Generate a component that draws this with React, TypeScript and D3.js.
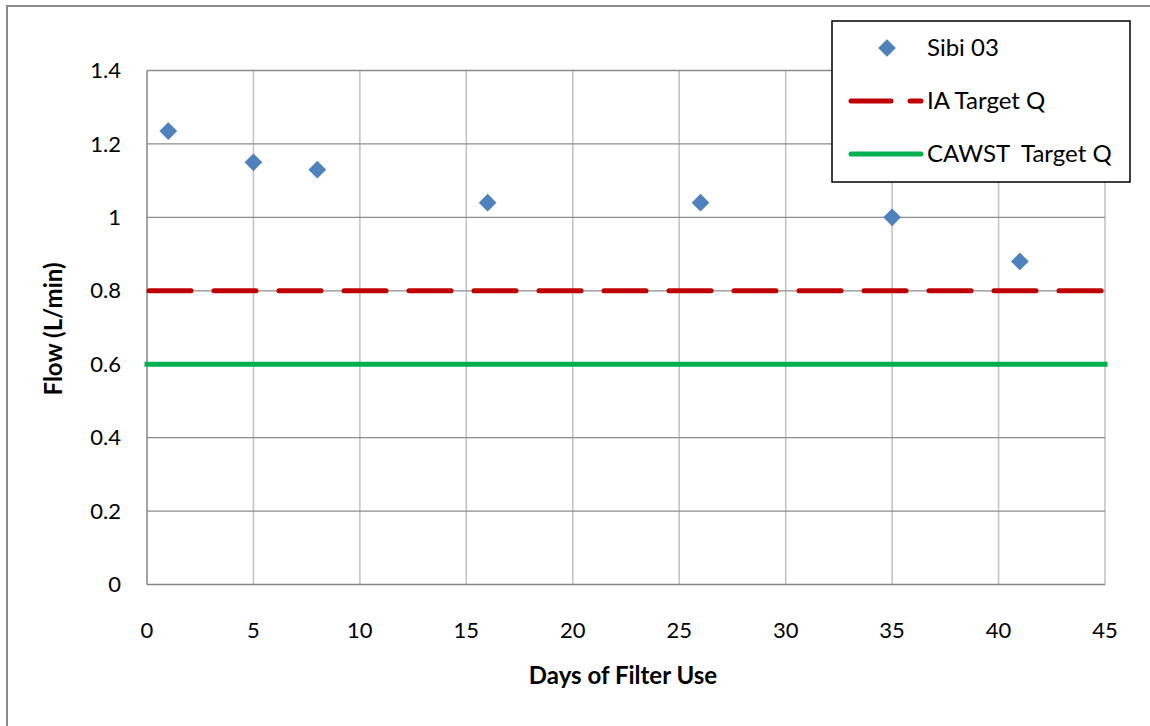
import React from "react";
import * as d3 from "d3";

const days = [1, 5, 8, 16, 26, 35, 41];
const flows = [1.235, 1.15, 1.13, 1.04, 1.04, 1.0, 0.88];
const xTicks = [0, 5, 10, 15, 20, 25, 30, 35, 40, 45];
const yTicks = [0, 0.2, 0.4, 0.6, 0.8, 1.0, 1.2, 1.4];
const iaTarget = 0.8;
const cawstTarget = 0.6;
const seriesNames = ["Sibi 03", "IA Target Q", "CAWST  Target Q"];

const W = 1150;
const H = 726;
const left = 147;
const right = 1105;
const top = 70.5;
const bottom = 584.5;
const font = "Lato, 'Open Sans', sans-serif";

export default function App() {
  const x = d3.scaleLinear().domain([0, 45]).range([left, right]);
  const y = d3.scaleLinear().domain([0, 1.4]).range([bottom, top]);
  const fmt = (v: number) => (v === 0 ? "0" : v === 1 ? "1" : d3.format(".1f")(v));
  const diamond = d3.symbol().type(d3.symbolDiamond2).size(200)();
  const line = d3.line<number>().x((d) => x(d)).y(() => 0);

  return (
    <svg width={W} height={H} style={{ position: "absolute", left: 0, top: 0 }}>
      <rect x={0} y={0} width={W} height={H} fill="#fff" />
      {/* outer frame */}
      <path d={`M7,${H} L7,6 L${W},6`} fill="none" stroke="#8a8a8a" strokeWidth={2} />
      {/* vertical gridlines */}
      {xTicks.slice(1).map((t) => (
        <line key={"vx" + t} x1={x(t)} x2={x(t)} y1={top} y2={bottom} stroke="#c0c0c0" strokeWidth={1.5} />
      ))}
      {/* horizontal gridlines */}
      {yTicks.slice(1).map((t) => (
        <line key={"hy" + t} x1={left} x2={right} y1={y(t)} y2={y(t)} stroke="#8c8c8c" strokeWidth={1.3} />
      ))}
      {/* axes */}
      <line x1={left} x2={left} y1={top} y2={bottom} stroke="#868686" strokeWidth={1.5} />
      <line x1={left} x2={right} y1={bottom} y2={bottom} stroke="#868686" strokeWidth={1.5} />
      {/* target lines */}
      <path
        d={line([0, 45]) || ""}
        transform={`translate(0,${y(cawstTarget)})`}
        fill="none"
        stroke="#00b050"
        strokeWidth={5}
        strokeLinecap="square"
      />
      <path
        d={line([0, 45]) || ""}
        transform={`translate(0,${y(iaTarget)})`}
        fill="none"
        stroke="#c00000"
        strokeWidth={5}
        strokeDasharray="42 23"
        strokeLinecap="round"
        strokeDashoffset={-2}
      />
      {/* points */}
      {days.map((d, i) => (
        <path key={"p" + i} d={diamond || ""} transform={`translate(${x(d)},${y(flows[i])})`} fill="#4f81bd" />
      ))}
      {/* tick labels */}
      {yTicks.map((t) => (
        <text key={"yl" + t} x={121} y={y(t)} dy="0.35em" textAnchor="end" fontFamily={font} fontSize={22} fill="#000">
          {fmt(t)}
        </text>
      ))}
      {xTicks.map((t) => (
        <text key={"xl" + t} x={x(t)} y={638} textAnchor="middle" fontFamily={font} fontSize={22} fill="#000">
          {t}
        </text>
      ))}
      {/* axis titles */}
      <text x={623} y={684} textAnchor="middle" fontFamily={font} fontSize={24} fontWeight="bold">
        Days of Filter Use
      </text>
      <text
        transform={`translate(62,329) rotate(-90)`}
        textAnchor="middle"
        fontFamily={font}
        fontSize={24}
        fontWeight="bold"
      >
        Flow (L/min)
      </text>
      {/* legend */}
      <rect x={832} y={21} width={298} height={161} fill="#fff" stroke="#000" strokeWidth={1.5} />
      <path d={diamond || ""} transform="translate(887,48)" fill="#4f81bd" />
      <line x1={851} x2={891} y1={101} y2={101} stroke="#c00000" strokeWidth={5} strokeLinecap="round" />
      <line x1={910} x2={921} y1={101} y2={101} stroke="#c00000" strokeWidth={5} strokeLinecap="round" />
      <line x1={851} x2={921} y1={154} y2={154} stroke="#00b050" strokeWidth={5} strokeLinecap="round" />
      {seriesNames.map((s, i) => (
        <text key={s} x={927} y={48 + i * 53} dy="0.35em" fontFamily={font} fontSize={24} style={{ whiteSpace: "pre" }}>
          {s}
        </text>
      ))}
    </svg>
  );
}
